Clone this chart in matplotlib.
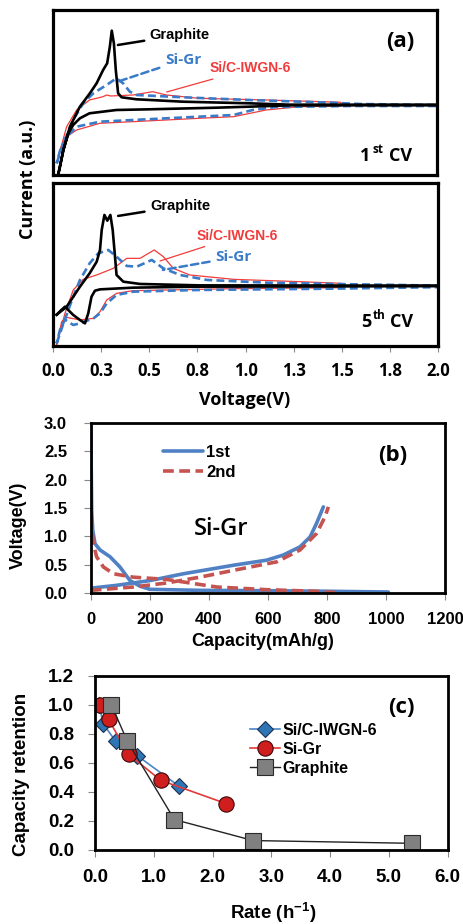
import numpy as np
import matplotlib
matplotlib.use('Agg')
import matplotlib.pyplot as plt

plt.rcParams['mathtext.fontset'] = 'custom'
plt.rcParams['mathtext.rm'] = 'Liberation Sans'
plt.rcParams['mathtext.default'] = 'regular'

ARIAL = 'Liberation Sans'
KFONT = 'Open Sans'

# ---- (a) cyclic voltammetry, arbitrary current units ----
cv_ticks = [0.0, 0.25, 0.5, 0.75, 1.0, 1.25, 1.5, 1.75, 2.0]
cv_ticklabels = ['0.0', '0.3', '0.5', '0.8', '1.0', '1.3', '1.5', '1.8', '2.0']

gr1_v = [0.028, 0.054, 0.088, 0.14, 0.192, 0.227, 0.261, 0.282, 0.296, 0.306, 0.317, 0.327,
         0.339, 0.357, 0.435, 0.677, 1.02, 1.25, 2.0,
         1.25, 1.02, 0.85, 0.504, 0.33, 0.19, 0.14, 0.105, 0.08, 0.054, 0.033, 0.028]
gr1_i = [-6.83, -4.5, -2.17, -0.17, 1.17, 2.17, 3.5, 4.17, 5.83, 7.43, 6.17, 3.5,
         1.17, 0.77, 0.57, 0.33, 0.17, 0.02, 0.0,
         -0.02, -0.17, -0.27, -0.43, -0.5, -0.83, -1.33, -2.0, -2.83, -4.5, -6.5, -6.83]

sg1_v = [0.019, 0.054, 0.105, 0.157, 0.21, 0.279, 0.33, 0.365, 0.4, 0.435, 0.677, 1.02, 1.45, 1.6, 2.0,
         2.0, 1.54, 1.28, 1.16, 1.04, 0.94, 0.59, 0.244, 0.123, 0.071, 0.036, 0.019]
sg1_i = [-5.83, -3.83, -1.5, 0.17, 1.17, 2.0, 2.67, 2.17, 1.33, 1.0, 0.77, 0.5, 0.23, 0.1, 0.0,
         -0.1, -0.1, -0.17, -0.2, -0.5, -1.0, -1.33, -1.67, -2.17, -3.17, -4.6, -5.83]

sc1_v = [0.028, 0.071, 0.123, 0.19, 0.26, 0.28, 0.3, 0.417, 0.52, 0.59, 0.76, 1.11, 1.5,
         1.5, 1.28, 1.11, 0.94, 0.76, 0.59, 0.244, 0.123, 0.071, 0.04, 0.028]
sc1_i = [-5.17, -2.17, -0.5, 0.5, 0.83, 1.0, 0.9, 1.0, 1.33, 1.0, 0.67, 0.5, 0.27,
         -0.1, -0.17, -0.5, -1.17, -1.33, -1.5, -1.83, -2.5, -3.17, -4.3, -5.17]

gr5_v = [0.019, 0.071, 0.14, 0.19, 0.227, 0.244, 0.253, 0.267, 0.282, 0.298, 0.31, 0.322, 0.33,
         0.365, 0.452, 0.76, 2.0,
         2.0, 0.76, 0.417, 0.244, 0.218, 0.2, 0.183, 0.166, 0.14, 0.105, 0.062, 0.019]
gr5_i = [-2.9, -2.1, -0.1, 1.23, 2.4, 3.57, 5.57, 7.07, 6.5, 7.07, 5.57, 2.9, 1.07,
         0.4, 0.17, 0.03, 0.0,
         -0.05, -0.1, -0.2, -0.37, -0.5, -1.1, -2.77, -3.77, -3.43, -2.93, -2.1, -2.9]

sg5_v = [0.019, 0.054, 0.105, 0.14, 0.19, 0.235, 0.287, 0.33, 0.383, 0.435, 0.513, 0.573, 0.66, 0.8,
         1.11, 1.45, 1.8, 2.0,
         2.0, 1.45, 0.76, 0.417, 0.33, 0.279, 0.244, 0.21, 0.14, 0.105, 0.062, 0.036, 0.019]
sg5_i = [-5.77, -3.77, -1.1, 0.57, 2.23, 3.23, 3.57, 2.9, 1.97, 1.9, 2.57, 1.73, 1.07, 0.57,
         0.3, 0.17, 0.07, 0.0,
         -0.15, -0.3, -0.43, -0.6, -0.93, -1.77, -2.77, -3.27, -3.77, -3.93, -3.4, -4.43, -5.77]

sc5_v = [0.019, 0.062, 0.105, 0.157, 0.227, 0.313, 0.383, 0.452, 0.526, 0.573, 0.625, 0.71, 0.94,
         1.28, 1.5,
         1.5, 0.94, 0.417, 0.33, 0.279, 0.244, 0.21, 0.14, 0.071, 0.045, 0.028, 0.019]
sc5_i = [-5.9, -2.77, -0.43, 0.63, 1.07, 1.73, 2.73, 2.73, 3.57, 2.9, 1.73, 1.07, 0.63,
         0.4, 0.23,
         -0.2, -0.3, -0.5, -0.77, -1.43, -2.6, -3.27, -3.43, -3.17, -3.6, -5.1, -5.9]

# ---- (b) Si-Gr charge/discharge ----
b1_dis_cap = [0, 3.4, 6.8, 14.7, 31.6, 65.5, 99, 133, 167, 201, 370, 596, 822, 1008]
b1_dis_v = [3.0, 1.46, 1.11, 0.87, 0.76, 0.64, 0.46, 0.22, 0.12, 0.065, 0.047, 0.041, 0.03, 0.018]
b1_chg_cap = [0, 88, 201, 314, 483, 596, 652, 709, 743, 765, 788]
b1_chg_v = [0.085, 0.136, 0.22, 0.34, 0.49, 0.58, 0.67, 0.815, 0.99, 1.23, 1.52]
b2_dis_cap = [0, 9, 20, 43, 77, 144, 257, 314, 427, 596, 765, 833]
b2_dis_v = [1.33, 0.87, 0.64, 0.46, 0.34, 0.28, 0.24, 0.195, 0.106, 0.059, 0.03, 0.006]
b2_chg_cap = [0, 144, 257, 370, 483, 630, 709, 765, 794, 805]
b2_chg_v = [0.047, 0.106, 0.177, 0.28, 0.4, 0.55, 0.76, 1.05, 1.35, 1.52]

# ---- (c) rate capability ----
rate_sic = [0.07, 0.14, 0.35, 0.72, 1.43]
ret_sic = [1.0, 0.87, 0.75, 0.65, 0.44]
rate_sigr = [0.09, 0.23, 0.57, 1.12, 2.23]
ret_sigr = [1.0, 0.9, 0.66, 0.48, 0.32]
rate_gr = [0.28, 0.55, 1.35, 2.69, 5.39]
ret_gr = [1.0, 0.75, 0.21, 0.065, 0.046]

BLK = 'black'
BLUE = '#3A7BC8'
RED = '#F23B3B'

fig = plt.figure(figsize=(4.63, 9.24), dpi=100)


def cv_axes(rect, ylim):
    ax = fig.add_axes(rect)
    ax.set_xlim(0, 2.0)
    ax.set_ylim(*ylim)
    ax.set_yticks([])
    for s in ax.spines.values():
        s.set_linewidth(2.3)
    return ax


def cycle_tag(ax, num, sup, y):
    kw = dict(transform=ax.transAxes, fontweight='bold', family=KFONT, ha='left', va='center')
    ax.text(0.799, y, num, fontsize=13, **kw)
    ax.text(0.831, y + 0.04, sup, fontsize=8.5, **kw)
    ax.text(0.875, y, 'CV', fontsize=13, **kw)


ax1 = cv_axes([0.1145, 0.8106, 0.8294, 0.1786], (-7.0, 9.5))
ax1.set_xticks([])
ax1.plot(sc1_v, sc1_i, color=RED, lw=0.9)
ax1.plot(sg1_v, sg1_i, color=BLUE, lw=1.9, dashes=(3, 1.6))
ax1.plot(gr1_v, gr1_i, color=BLK, lw=1.9)
ax1.annotate('Graphite', xy=(0.338, 6.0), xytext=(0.504, 7.0), color=BLK, fontsize=10.5,
             fontweight='bold', family=ARIAL, va='center',
             arrowprops=dict(arrowstyle='-', color=BLK, lw=1.8, shrinkA=2, shrinkB=0))
ax1.annotate('Si-Gr', xy=(0.332, 2.3), xytext=(0.582, 4.5), color=BLUE, fontsize=11,
             fontweight='bold', family=KFONT, va='center',
             arrowprops=dict(arrowstyle='-', color=BLUE, lw=1.8, ls=(0, (3, 1.6)), shrinkA=2, shrinkB=0))
ax1.annotate('Si/C-IWGN-6', xy=(0.592, 1.3), xytext=(0.816, 3.65), color=RED, fontsize=10,
             fontweight='bold', family=ARIAL, va='center',
             arrowprops=dict(arrowstyle='-', color=RED, lw=0.9, shrinkA=2, shrinkB=0))
ax1.text(0.905, 0.81, '(a)', transform=ax1.transAxes, fontsize=16, fontweight='bold',
         family=KFONT, ha='center', va='center')
cycle_tag(ax1, '1', 'st', 0.115)

ax2 = cv_axes([0.1145, 0.6259, 0.8316, 0.1761], (-6.0, 10.27))
ax2.plot(sc5_v, sc5_i, color=RED, lw=0.9)
ax2.plot(sg5_v, sg5_i, color=BLUE, lw=1.9, dashes=(3, 1.6))
ax2.plot(gr5_v, gr5_i, color=BLK, lw=1.9)
ax2.set_xticks(cv_ticks)
ax2.set_xticklabels(cv_ticklabels, fontsize=12, fontweight='bold', family=KFONT)
ax2.tick_params(axis='x', direction='out', length=4, color='#888888', pad=8)
ax2.annotate('Graphite', xy=(0.338, 6.97), xytext=(0.504, 7.97), color=BLK, fontsize=10.5,
             fontweight='bold', family=ARIAL, va='center',
             arrowprops=dict(arrowstyle='-', color=BLK, lw=1.8, shrinkA=2, shrinkB=0))
ax2.annotate('Si/C-IWGN-6', xy=(0.556, 2.47), xytext=(0.748, 4.97), color=RED, fontsize=10,
             fontweight='bold', family=ARIAL, va='center',
             arrowprops=dict(arrowstyle='-', color=RED, lw=0.9, shrinkA=2, shrinkB=0))
ax2.annotate('Si-Gr', xy=(0.571, 1.57), xytext=(0.842, 2.82), color=BLUE, fontsize=11,
             fontweight='bold', family=KFONT, va='center',
             arrowprops=dict(arrowstyle='-', color=BLUE, lw=1.8, ls=(0, (3, 1.6)), shrinkA=2, shrinkB=0))
cycle_tag(ax2, '5', 'th', 0.146)

fig.text(0.06, 0.806, 'Current (a.u.)', rotation=90, fontsize=13, fontweight='bold',
         family=KFONT, ha='center', va='center')
fig.text(0.529, 0.567, 'Voltage(V)', fontsize=13, fontweight='bold', family=KFONT,
         ha='center', va='center')

# ---- (b) ----
ax3 = fig.add_axes([0.1959, 0.3582, 0.7652, 0.184])
ax3.plot(b1_dis_cap, b1_dis_v, color='#4F81C4', lw=2.6, label='1st', solid_capstyle='round')
ax3.plot(b1_chg_cap, b1_chg_v, color='#4F81C4', lw=2.6, solid_capstyle='round')
ax3.plot(b2_dis_cap, b2_dis_v, color='#C55450', lw=2.6, dashes=(3, 1.5), label='2nd')
ax3.plot(b2_chg_cap, b2_chg_v, color='#C55450', lw=2.6, dashes=(3, 1.5))
ax3.set_xlim(0, 1200)
ax3.set_ylim(0, 3.0)
ax3.set_xticks(np.arange(0, 1201, 200))
ax3.set_yticks(np.arange(0, 3.01, 0.5))
ax3.set_yticklabels(['%.1f' % t for t in np.arange(0, 3.01, 0.5)])
for lab in ax3.get_xticklabels() + ax3.get_yticklabels():
    lab.set_fontsize(12)
    lab.set_fontweight('bold')
    lab.set_family(ARIAL)
ax3.tick_params(direction='out', length=5, color='#888888')
ax3.tick_params(axis='x', pad=9)
ax3.tick_params(axis='y', pad=12)
for s in ax3.spines.values():
    s.set_linewidth(2.0)
ax3.legend(loc='upper left', bbox_to_anchor=(0.204, 0.872), frameon=False, handlelength=2.4,
           prop={'family': ARIAL, 'weight': 'bold', 'size': 12}, labelspacing=0.32,
           handletextpad=0.2, borderpad=0, borderaxespad=0)
ax3.text(0.853, 0.81, '(b)', transform=ax3.transAxes, fontsize=16, fontweight='bold',
         family=KFONT, ha='center', va='center')
ax3.text(0.368, 0.376, 'Si-Gr', transform=ax3.transAxes, fontsize=17, family=KFONT,
         fontweight='semibold', ha='center', va='center')
fig.text(0.039, 0.431, 'Voltage(V)', rotation=90, fontsize=13, fontweight='bold',
         family=ARIAL, ha='center', va='center')
fig.text(0.568, 0.3052, 'Capacity(mAh/g)', fontsize=13, fontweight='bold', family=ARIAL,
         ha='center', va='center')

# ---- (c) ----
ax4 = fig.add_axes([0.2052, 0.0801, 0.7618, 0.1883])
ax4.plot(rate_sic, ret_sic, color='#4A86C8', lw=1.2, marker='D', ms=8,
         mfc='#2E75B6', mec='#1F3050', mew=0.8, label='Si/C-IWGN-6')
ax4.plot(rate_sigr, ret_sigr, color='#E03A3A', lw=1.2, marker='o', ms=11,
         mfc='#D01E1E', mec='#3A0A0A', mew=0.8, label='Si-Gr')
ax4.plot(rate_gr, ret_gr, color='#222222', lw=1.0, marker='s', ms=11,
         mfc='#808080', mec='#2A2A2A', mew=0.8, label='Graphite')
ax4.set_xlim(0, 6.0)
ax4.set_ylim(0, 1.2)
ax4.set_xticks(np.arange(0, 6.01, 1.0))
ax4.set_xticklabels(['%.1f' % t for t in np.arange(0, 6.01, 1.0)])
ax4.set_yticks(np.arange(0, 1.21, 0.2))
ax4.set_yticklabels(['%.1f' % t for t in np.arange(0, 1.21, 0.2)])
for lab in ax4.get_xticklabels() + ax4.get_yticklabels():
    lab.set_fontsize(13.5)
    lab.set_fontweight('bold')
    lab.set_family(ARIAL)
ax4.tick_params(direction='out', length=5, color='#888888')
ax4.tick_params(axis='x', pad=9)
ax4.tick_params(axis='y', pad=10)
for s in ax4.spines.values():
    s.set_linewidth(2.0)
ax4.legend(loc='upper left', bbox_to_anchor=(0.439, 0.73), frameon=False, handlelength=1.9,
           prop={'family': ARIAL, 'weight': 'bold', 'size': 11.5}, labelspacing=0.25,
           handletextpad=0.15, borderpad=0, borderaxespad=0)
ax4.text(0.868, 0.82, '(c)', transform=ax4.transAxes, fontsize=16, fontweight='bold',
         family=KFONT, ha='center', va='center')
fig.text(0.0475, 0.1623, 'Capacity retention', rotation=90, fontsize=13.5, fontweight='bold',
         family=ARIAL, ha='center', va='center')
fig.text(0.59, 0.012, r'Rate (h$^{-1}$)', fontsize=13.5, fontweight='bold', family=ARIAL,
         ha='center', va='center')

fig.savefig('out.png', dpi=100)
